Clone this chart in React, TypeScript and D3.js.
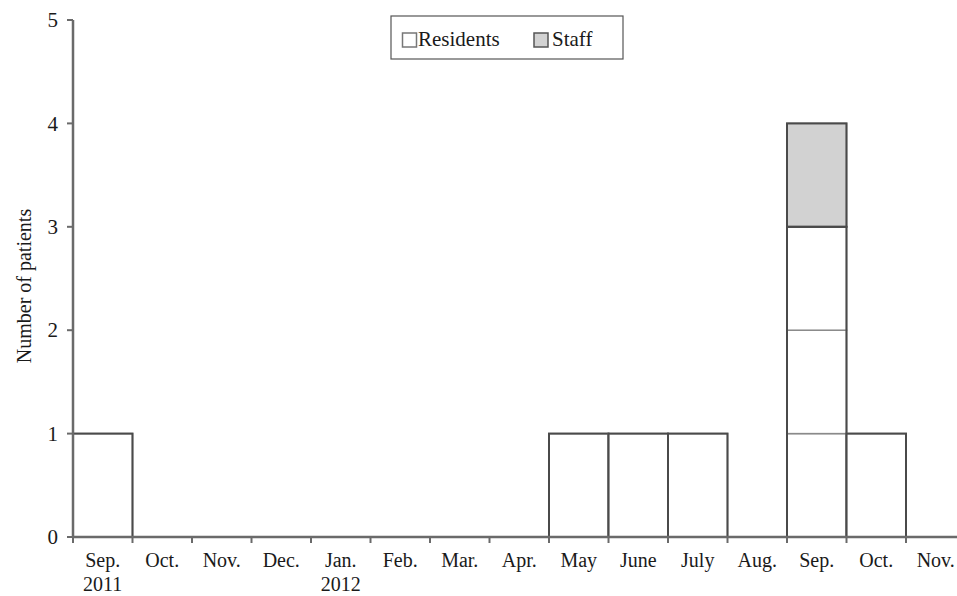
import React from "react";
import * as d3 from "d3";

const months = ["Sep.", "Oct.", "Nov.", "Dec.", "Jan.", "Feb.", "Mar.", "Apr.", "May", "June", "July", "Aug.", "Sep.", "Oct.", "Nov."];
const years = ["2011", "", "", "", "2012", "", "", "", "", "", "", "", "", "", ""];
const residents = [1, 0, 0, 0, 0, 0, 0, 0, 1, 1, 1, 0, 3, 1, 0];
const staff = [0, 0, 0, 0, 0, 0, 0, 0, 0, 0, 0, 0, 1, 0, 0];
const yTicks = [0, 1, 2, 3, 4, 5];

const W = 957, H = 596;
const left = 73, bandW = 59.5;
const font = "Liberation Serif, Times New Roman, serif";

export default function App() {
  const x = d3.scaleBand<number>().domain(d3.range(months.length)).range([left, left + bandW * months.length]).paddingInner(0).paddingOuter(0);
  const y = d3.scaleLinear().domain([0, 5]).range([537, 20]);
  const axisCol = "#6a6a6a";
  const barCol = "#4a4a4a";
  const cellCol = "#8a8a8a";

  const cells: React.ReactNode[] = [];
  months.forEach((m, i) => {
    const x0 = x(i)!;
    const r = residents[i], s = staff[i];
    for (let k = 0; k < r + s; k++) {
      cells.push(
        <rect key={`c${i}-${k}`} x={x0} y={y(k + 1)} width={x.bandwidth()} height={y(k) - y(k + 1)}
          fill={k < r ? "#fff" : "#d2d2d2"} stroke={cellCol} strokeWidth={1.5} />
      );
    }
    if (r > 0) cells.push(<rect key={`r${i}`} x={x0} y={y(r)} width={x.bandwidth()} height={y(0) - y(r)} fill="none" stroke={barCol} strokeWidth={2} />);
    if (s > 0) cells.push(<rect key={`s${i}`} x={x0} y={y(r + s)} width={x.bandwidth()} height={y(r) - y(r + s)} fill="none" stroke={barCol} strokeWidth={2} />);
  });

  return (
    <svg width={W} height={H} style={{ position: "absolute", left: 0, top: 0, background: "#fff" }} fontFamily={font}>
      {cells}
      {/* y axis */}
      <line x1={left} x2={left} y1={y(5)} y2={y(0)} stroke={axisCol} strokeWidth={2.5} />
      {yTicks.map(t => (
        <g key={t}>
          <line x1={left - 6} x2={left} y1={y(t)} y2={y(t)} stroke={axisCol} strokeWidth={2} />
          <text x={58} y={y(t)} dy="0.34em" textAnchor="end" fontSize={21} fill="#1a1a1a">{t}</text>
        </g>
      ))}
      {/* x axis */}
      <line x1={left} x2={left + bandW * months.length} y1={y(0)} y2={y(0)} stroke={axisCol} strokeWidth={2.5} />
      {d3.range(months.length + 1).map(i => (
        <line key={`t${i}`} x1={left + i * bandW} x2={left + i * bandW} y1={y(0)} y2={y(0) + 6} stroke={axisCol} strokeWidth={2} />
      ))}
      {months.map((m, i) => (
        <g key={`l${i}`}>
          <text x={x(i)! + x.bandwidth() / 2} y={567} textAnchor="middle" fontSize={20} fill="#1a1a1a">{m}</text>
          {years[i] && <text x={x(i)! + x.bandwidth() / 2} y={591} textAnchor="middle" fontSize={20} fill="#1a1a1a">{years[i]}</text>}
        </g>
      ))}
      <text transform={`translate(31,286) rotate(-90)`} textAnchor="middle" fontSize={20} fill="#1a1a1a">Number of patients</text>
      {/* legend */}
      <rect x={391} y={16} width={232} height={43} fill="#fff" stroke="#555" strokeWidth={1.2} />
      <rect x={402.5} y={33} width={14} height={14} fill="#fff" stroke="#777" strokeWidth={1.5} />
      <text x={418} y={46} fontSize={21} fill="#1a1a1a">Residents</text>
      <rect x={534} y={33} width={14} height={14} fill="#d2d2d2" stroke="#555" strokeWidth={1.5} />
      <text x={552} y={46} fontSize={21} fill="#1a1a1a">Staff</text>
    </svg>
  );
}
